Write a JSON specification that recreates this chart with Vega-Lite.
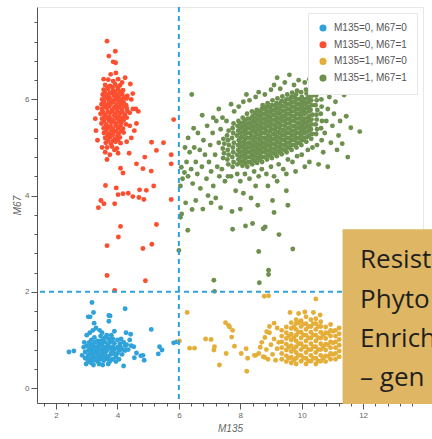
{
"$schema":"https://vega.github.io/schema/vega-lite/v6.json",
"width":386,"height":396,"autosize":"none",
"padding":{"left":37,"top":7,"right":9,"bottom":36},
"background":"white",
"config":{"view":{"stroke":"#e8e8e8"}},
"datasets":{
"pts":[
{"x":2.85,"y":0.68,"g":"A"},{"x":2.92,"y":0.95,"g":"A"},{"x":2.95,"y":0.75,"g":"A"},{"x":3.0,"y":0.62,"g":"A"},{"x":3.0,"y":0.88,"g":"A"},{"x":3.0,"y":1.1,"g":"A"},{"x":3.05,"y":0.55,"g":"A"},{"x":3.05,"y":0.78,"g":"A"},{"x":3.1,"y":0.7,"g":"A"},{"x":3.1,"y":0.82,"g":"A"},{"x":3.1,"y":1.15,"g":"A"},{"x":3.15,"y":0.52,"g":"A"},{"x":3.15,"y":0.76,"g":"A"},{"x":3.15,"y":1.0,"g":"A"},{"x":3.2,"y":0.65,"g":"A"},{"x":3.2,"y":0.9,"g":"A"},{"x":3.2,"y":1.2,"g":"A"},{"x":3.25,"y":0.58,"g":"A"},{"x":3.25,"y":0.8,"g":"A"},{"x":3.25,"y":1.05,"g":"A"},{"x":3.3,"y":0.72,"g":"A"},{"x":3.3,"y":0.85,"g":"A"},{"x":3.3,"y":1.25,"g":"A"},{"x":3.35,"y":0.55,"g":"A"},{"x":3.35,"y":0.75,"g":"A"},{"x":3.35,"y":0.98,"g":"A"},{"x":3.4,"y":0.5,"g":"A"},{"x":3.4,"y":0.68,"g":"A"},{"x":3.4,"y":0.92,"g":"A"},{"x":3.45,"y":0.6,"g":"A"},{"x":3.45,"y":0.8,"g":"A"},{"x":3.45,"y":1.08,"g":"A"},{"x":3.5,"y":0.75,"g":"A"},{"x":3.5,"y":0.88,"g":"A"},{"x":3.5,"y":1.15,"g":"A"},{"x":3.55,"y":0.57,"g":"A"},{"x":3.55,"y":0.82,"g":"A"},{"x":3.55,"y":1.02,"g":"A"},{"x":3.6,"y":0.6,"g":"A"},{"x":3.6,"y":0.7,"g":"A"},{"x":3.6,"y":0.95,"g":"A"},{"x":3.65,"y":0.62,"g":"A"},{"x":3.65,"y":0.78,"g":"A"},{"x":3.65,"y":1.1,"g":"A"},{"x":3.7,"y":0.5,"g":"A"},{"x":3.7,"y":0.66,"g":"A"},{"x":3.7,"y":0.9,"g":"A"},{"x":3.75,"y":0.55,"g":"A"},{"x":3.75,"y":0.84,"g":"A"},{"x":3.8,"y":0.74,"g":"A"},{"x":3.8,"y":0.98,"g":"A"},{"x":3.8,"y":1.1,"g":"A"},{"x":3.85,"y":0.6,"g":"A"},{"x":3.85,"y":0.86,"g":"A"},{"x":3.9,"y":0.8,"g":"A"},{"x":3.9,"y":0.93,"g":"A"},{"x":3.9,"y":1.18,"g":"A"},{"x":3.95,"y":0.65,"g":"A"},{"x":4.0,"y":0.72,"g":"A"},{"x":4.0,"y":1.0,"g":"A"},{"x":4.05,"y":0.6,"g":"A"},{"x":4.1,"y":0.85,"g":"A"},{"x":4.15,"y":0.7,"g":"A"},{"x":4.2,"y":0.95,"g":"A"},{"x":4.25,"y":0.78,"g":"A"},{"x":4.3,"y":0.9,"g":"A"},{"x":4.35,"y":0.8,"g":"A"},{"x":4.4,"y":1.0,"g":"A"},{"x":4.45,"y":0.88,"g":"A"},{"x":2.98,"y":0.5,"g":"A"},{"x":3.22,"y":0.48,"g":"A"},{"x":3.52,"y":0.48,"g":"A"},{"x":2.9,"y":0.85,"g":"A"},{"x":3.08,"y":0.95,"g":"A"},{"x":3.42,"y":1.2,"g":"A"},{"x":3.62,"y":0.85,"g":"A"},{"x":3.72,"y":1.02,"g":"A"},{"x":3.95,"y":0.55,"g":"A"},{"x":4.12,"y":1.02,"g":"A"},{"x":4.05,"y":0.78,"g":"A"},
{"x":3.12,"y":0.6,"g":"A"},{"x":3.28,"y":0.62,"g":"A"},{"x":3.42,"y":0.64,"g":"A"},{"x":3.58,"y":0.66,"g":"A"},{"x":3.72,"y":0.6,"g":"A"},{"x":3.18,"y":0.72,"g":"A"},{"x":3.35,"y":0.82,"g":"A"},{"x":3.48,"y":0.7,"g":"A"},{"x":3.62,"y":0.76,"g":"A"},{"x":3.78,"y":0.7,"g":"A"},{"x":3.22,"y":0.85,"g":"A"},{"x":3.38,"y":0.88,"g":"A"},{"x":3.52,"y":0.95,"g":"A"},{"x":3.68,"y":0.82,"g":"A"},{"x":3.82,"y":0.8,"g":"A"},{"x":3.05,"y":0.68,"g":"A"},{"x":2.95,"y":0.62,"g":"A"},{"x":3.27,"y":0.95,"g":"A"},{"x":3.46,"y":0.98,"g":"A"},{"x":3.6,"y":1.05,"g":"A"},{"x":3.75,"y":0.95,"g":"A"},{"x":3.88,"y":0.72,"g":"A"},{"x":4.0,"y":0.85,"g":"A"},{"x":4.15,"y":0.8,"g":"A"},{"x":4.25,"y":0.88,"g":"A"},{"x":3.12,"y":0.88,"g":"A"},{"x":3.3,"y":0.62,"g":"A"},{"x":3.55,"y":0.65,"g":"A"},{"x":3.85,"y":1.02,"g":"A"},{"x":4.08,"y":0.92,"g":"A"},
{"x":3.17,"y":1.78,"g":"A"},{"x":4.25,"y":1.65,"g":"A"},{"x":5.1,"y":1.22,"g":"A"},{"x":2.42,"y":0.75,"g":"A"},{"x":2.58,"y":0.77,"g":"A"},{"x":5.37,"y":0.86,"g":"A"},{"x":5.45,"y":0.79,"g":"A"},{"x":5.33,"y":0.71,"g":"A"},{"x":5.83,"y":0.94,"g":"A"},{"x":5.93,"y":0.96,"g":"A"},{"x":4.83,"y":0.68,"g":"A"},{"x":4.62,"y":0.73,"g":"A"},{"x":4.53,"y":0.86,"g":"A"},{"x":4.2,"y":0.46,"g":"A"},{"x":3.72,"y":1.51,"g":"A"},{"x":3.72,"y":1.39,"g":"A"},{"x":3.05,"y":1.48,"g":"A"},{"x":3.11,"y":1.48,"g":"A"},{"x":3.22,"y":1.57,"g":"A"},{"x":3.24,"y":1.35,"g":"A"},{"x":3.76,"y":1.5,"g":"A"},{"x":4.28,"y":1.15,"g":"A"},{"x":4.43,"y":1.12,"g":"A"},{"x":4.76,"y":0.67,"g":"A"},{"x":4.87,"y":0.58,"g":"A"},{"x":4.55,"y":0.63,"g":"A"},
{"x":3.7,"y":6.41,"g":"B"},{"x":3.86,"y":6.38,"g":"B"},{"x":4.02,"y":6.42,"g":"B"},
{"x":3.6,"y":6.3,"g":"B"},{"x":3.76,"y":6.28,"g":"B"},{"x":3.92,"y":6.32,"g":"B"},{"x":4.08,"y":6.29,"g":"B"},
{"x":3.55,"y":6.2,"g":"B"},{"x":3.7,"y":6.22,"g":"B"},{"x":3.86,"y":6.18,"g":"B"},{"x":4.02,"y":6.21,"g":"B"},{"x":4.18,"y":6.19,"g":"B"},
{"x":3.52,"y":6.1,"g":"B"},{"x":3.68,"y":6.08,"g":"B"},{"x":3.84,"y":6.12,"g":"B"},{"x":4.0,"y":6.09,"g":"B"},{"x":4.16,"y":6.11,"g":"B"},{"x":4.32,"y":6.07,"g":"B"},
{"x":3.5,"y":6.0,"g":"B"},{"x":3.66,"y":6.02,"g":"B"},{"x":3.82,"y":5.98,"g":"B"},{"x":3.98,"y":6.01,"g":"B"},{"x":4.14,"y":5.99,"g":"B"},{"x":4.3,"y":6.02,"g":"B"},
{"x":3.48,"y":5.9,"g":"B"},{"x":3.64,"y":5.88,"g":"B"},{"x":3.8,"y":5.92,"g":"B"},{"x":3.96,"y":5.89,"g":"B"},{"x":4.12,"y":5.91,"g":"B"},{"x":4.28,"y":5.88,"g":"B"},
{"x":3.5,"y":5.8,"g":"B"},{"x":3.66,"y":5.82,"g":"B"},{"x":3.82,"y":5.78,"g":"B"},{"x":3.98,"y":5.81,"g":"B"},{"x":4.14,"y":5.79,"g":"B"},{"x":4.3,"y":5.82,"g":"B"},{"x":4.5,"y":5.8,"g":"B"},
{"x":3.45,"y":5.7,"g":"B"},{"x":3.6,"y":5.68,"g":"B"},{"x":3.76,"y":5.72,"g":"B"},{"x":3.92,"y":5.69,"g":"B"},{"x":4.08,"y":5.71,"g":"B"},{"x":4.24,"y":5.68,"g":"B"},{"x":4.4,"y":5.72,"g":"B"},
{"x":3.5,"y":5.6,"g":"B"},{"x":3.66,"y":5.62,"g":"B"},{"x":3.82,"y":5.58,"g":"B"},{"x":3.98,"y":5.61,"g":"B"},{"x":4.14,"y":5.59,"g":"B"},{"x":4.3,"y":5.62,"g":"B"},
{"x":3.48,"y":5.5,"g":"B"},{"x":3.64,"y":5.48,"g":"B"},{"x":3.8,"y":5.52,"g":"B"},{"x":3.96,"y":5.49,"g":"B"},{"x":4.12,"y":5.51,"g":"B"},{"x":4.28,"y":5.48,"g":"B"},
{"x":3.55,"y":5.4,"g":"B"},{"x":3.7,"y":5.42,"g":"B"},{"x":3.86,"y":5.38,"g":"B"},{"x":4.02,"y":5.41,"g":"B"},{"x":4.18,"y":5.39,"g":"B"},
{"x":3.56,"y":5.3,"g":"B"},{"x":3.72,"y":5.28,"g":"B"},{"x":3.88,"y":5.32,"g":"B"},{"x":4.04,"y":5.29,"g":"B"},{"x":4.2,"y":5.31,"g":"B"},
{"x":3.6,"y":5.2,"g":"B"},{"x":3.76,"y":5.22,"g":"B"},{"x":3.92,"y":5.18,"g":"B"},{"x":4.08,"y":5.21,"g":"B"},
{"x":3.62,"y":5.1,"g":"B"},{"x":3.78,"y":5.08,"g":"B"},{"x":3.94,"y":5.12,"g":"B"},{"x":4.1,"y":5.09,"g":"B"},
{"x":3.66,"y":5.0,"g":"B"},{"x":3.82,"y":5.02,"g":"B"},{"x":3.98,"y":4.98,"g":"B"},
{"x":3.68,"y":6.25,"g":"B"},{"x":3.84,"y":6.25,"g":"B"},{"x":4.0,"y":6.26,"g":"B"},{"x":3.6,"y":6.15,"g":"B"},{"x":3.76,"y":6.14,"g":"B"},{"x":3.92,"y":6.16,"g":"B"},{"x":4.08,"y":6.15,"g":"B"},{"x":3.58,"y":6.05,"g":"B"},{"x":3.74,"y":6.04,"g":"B"},{"x":3.9,"y":6.06,"g":"B"},{"x":4.06,"y":6.05,"g":"B"},{"x":4.22,"y":6.04,"g":"B"},{"x":3.56,"y":5.95,"g":"B"},{"x":3.72,"y":5.94,"g":"B"},{"x":3.88,"y":5.96,"g":"B"},{"x":4.04,"y":5.95,"g":"B"},{"x":4.2,"y":5.94,"g":"B"},{"x":3.58,"y":5.85,"g":"B"},{"x":3.74,"y":5.86,"g":"B"},{"x":3.9,"y":5.84,"g":"B"},{"x":4.06,"y":5.85,"g":"B"},{"x":4.22,"y":5.86,"g":"B"},{"x":3.52,"y":5.75,"g":"B"},{"x":3.68,"y":5.74,"g":"B"},{"x":3.84,"y":5.76,"g":"B"},{"x":4.0,"y":5.75,"g":"B"},{"x":4.16,"y":5.74,"g":"B"},{"x":4.32,"y":5.76,"g":"B"},{"x":3.58,"y":5.65,"g":"B"},{"x":3.74,"y":5.64,"g":"B"},{"x":3.9,"y":5.66,"g":"B"},{"x":4.06,"y":5.65,"g":"B"},{"x":4.22,"y":5.64,"g":"B"},{"x":3.56,"y":5.55,"g":"B"},{"x":3.72,"y":5.56,"g":"B"},{"x":3.88,"y":5.54,"g":"B"},{"x":4.04,"y":5.55,"g":"B"},{"x":4.2,"y":5.56,"g":"B"},{"x":3.62,"y":5.45,"g":"B"},{"x":3.78,"y":5.44,"g":"B"},{"x":3.94,"y":5.46,"g":"B"},{"x":4.1,"y":5.45,"g":"B"},{"x":3.64,"y":5.35,"g":"B"},{"x":3.8,"y":5.36,"g":"B"},{"x":3.96,"y":5.34,"g":"B"},{"x":4.12,"y":5.35,"g":"B"},{"x":3.68,"y":5.25,"g":"B"},{"x":3.84,"y":5.26,"g":"B"},{"x":4.0,"y":5.24,"g":"B"},{"x":3.7,"y":5.15,"g":"B"},{"x":3.86,"y":5.14,"g":"B"},{"x":4.02,"y":5.16,"g":"B"},
{"x":4.45,"y":6.0,"g":"B"},{"x":4.6,"y":5.8,"g":"B"},{"x":4.68,"y":5.75,"g":"B"},{"x":4.62,"y":5.5,"g":"B"},{"x":4.55,"y":5.35,"g":"B"},{"x":4.4,"y":5.45,"g":"B"},{"x":4.45,"y":5.2,"g":"B"},{"x":4.3,"y":5.12,"g":"B"},{"x":4.5,"y":6.12,"g":"B"},{"x":4.42,"y":6.32,"g":"B"},{"x":3.3,"y":5.35,"g":"B"},{"x":3.35,"y":5.15,"g":"B"},{"x":3.28,"y":5.6,"g":"B"},{"x":3.35,"y":5.82,"g":"B"},{"x":3.5,"y":5.0,"g":"B"},{"x":3.6,"y":4.9,"g":"B"},{"x":3.75,"y":4.85,"g":"B"},{"x":3.9,"y":4.95,"g":"B"},{"x":4.02,"y":4.88,"g":"B"},{"x":3.66,"y":4.75,"g":"B"},{"x":4.25,"y":6.45,"g":"B"},{"x":3.55,"y":6.42,"g":"B"},{"x":3.95,"y":6.55,"g":"B"},{"x":4.15,"y":6.35,"g":"B"},{"x":3.78,"y":6.52,"g":"B"},
{"x":3.66,"y":7.21,"g":"B"},{"x":3.93,"y":7.0,"g":"B"},{"x":3.72,"y":6.9,"g":"B"},{"x":3.86,"y":6.78,"g":"B"},{"x":3.94,"y":6.76,"g":"B"},{"x":5.11,"y":5.11,"g":"B"},{"x":5.5,"y":5.1,"g":"B"},{"x":5.27,"y":4.94,"g":"B"},{"x":4.89,"y":4.8,"g":"B"},{"x":5.75,"y":4.85,"g":"B"},{"x":5.75,"y":4.66,"g":"B"},{"x":5.83,"y":5.58,"g":"B"},{"x":4.83,"y":4.56,"g":"B"},{"x":5.1,"y":4.51,"g":"B"},{"x":4.62,"y":4.66,"g":"B"},{"x":4.1,"y":4.57,"g":"B"},{"x":4.18,"y":4.47,"g":"B"},{"x":4.38,"y":4.88,"g":"B"},{"x":3.61,"y":4.21,"g":"B"},{"x":3.96,"y":4.16,"g":"B"},{"x":4.02,"y":4.02,"g":"B"},{"x":4.18,"y":4.04,"g":"B"},{"x":4.35,"y":4.05,"g":"B"},{"x":4.5,"y":3.98,"g":"B"},{"x":4.7,"y":3.96,"g":"B"},{"x":4.86,"y":3.92,"g":"B"},{"x":4.94,"y":4.11,"g":"B"},{"x":5.18,"y":4.2,"g":"B"},{"x":4.72,"y":4.12,"g":"B"},{"x":3.46,"y":3.9,"g":"B"},{"x":3.56,"y":3.83,"g":"B"},{"x":3.38,"y":3.75,"g":"B"},{"x":3.91,"y":3.83,"g":"B"},{"x":5.75,"y":3.92,"g":"B"},{"x":4.1,"y":3.36,"g":"B"},{"x":5.27,"y":3.4,"g":"B"},{"x":4.03,"y":3.14,"g":"B"},{"x":3.66,"y":2.96,"g":"B"},{"x":5.12,"y":2.99,"g":"B"},{"x":4.83,"y":2.9,"g":"B"},{"x":3.66,"y":2.34,"g":"B"},{"x":4.91,"y":2.23,"g":"B"},{"x":3.91,"y":2.03,"g":"B"},
{"x":9.35,"y":0.6,"g":"C"},{"x":9.35,"y":0.72,"g":"C"},{"x":9.35,"y":0.84,"g":"C"},{"x":9.35,"y":0.96,"g":"C"},{"x":9.35,"y":1.08,"g":"C"},{"x":9.35,"y":1.2,"g":"C"},
{"x":9.5,"y":0.55,"g":"C"},{"x":9.5,"y":0.67,"g":"C"},{"x":9.5,"y":0.79,"g":"C"},{"x":9.5,"y":0.91,"g":"C"},{"x":9.5,"y":1.03,"g":"C"},{"x":9.5,"y":1.15,"g":"C"},{"x":9.5,"y":1.27,"g":"C"},
{"x":9.66,"y":0.52,"g":"C"},{"x":9.66,"y":0.64,"g":"C"},{"x":9.66,"y":0.76,"g":"C"},{"x":9.66,"y":0.88,"g":"C"},{"x":9.66,"y":1.0,"g":"C"},{"x":9.66,"y":1.12,"g":"C"},{"x":9.66,"y":1.24,"g":"C"},{"x":9.66,"y":1.36,"g":"C"},
{"x":9.82,"y":0.5,"g":"C"},{"x":9.82,"y":0.62,"g":"C"},{"x":9.82,"y":0.74,"g":"C"},{"x":9.82,"y":0.86,"g":"C"},{"x":9.82,"y":0.98,"g":"C"},{"x":9.82,"y":1.1,"g":"C"},{"x":9.82,"y":1.22,"g":"C"},{"x":9.82,"y":1.34,"g":"C"},{"x":9.82,"y":1.42,"g":"C"},
{"x":9.98,"y":0.56,"g":"C"},{"x":9.98,"y":0.68,"g":"C"},{"x":9.98,"y":0.8,"g":"C"},{"x":9.98,"y":0.92,"g":"C"},{"x":9.98,"y":1.04,"g":"C"},{"x":9.98,"y":1.16,"g":"C"},{"x":9.98,"y":1.28,"g":"C"},{"x":9.98,"y":1.4,"g":"C"},
{"x":10.14,"y":0.5,"g":"C"},{"x":10.14,"y":0.62,"g":"C"},{"x":10.14,"y":0.74,"g":"C"},{"x":10.14,"y":0.86,"g":"C"},{"x":10.14,"y":0.98,"g":"C"},{"x":10.14,"y":1.1,"g":"C"},{"x":10.14,"y":1.22,"g":"C"},{"x":10.14,"y":1.34,"g":"C"},{"x":10.14,"y":1.48,"g":"C"},
{"x":10.3,"y":0.56,"g":"C"},{"x":10.3,"y":0.68,"g":"C"},{"x":10.3,"y":0.8,"g":"C"},{"x":10.3,"y":0.92,"g":"C"},{"x":10.3,"y":1.04,"g":"C"},{"x":10.3,"y":1.16,"g":"C"},{"x":10.3,"y":1.28,"g":"C"},{"x":10.3,"y":1.42,"g":"C"},
{"x":10.46,"y":0.5,"g":"C"},{"x":10.46,"y":0.62,"g":"C"},{"x":10.46,"y":0.74,"g":"C"},{"x":10.46,"y":0.86,"g":"C"},{"x":10.46,"y":0.98,"g":"C"},{"x":10.46,"y":1.1,"g":"C"},{"x":10.46,"y":1.22,"g":"C"},{"x":10.46,"y":1.34,"g":"C"},{"x":10.46,"y":1.44,"g":"C"},
{"x":10.62,"y":0.56,"g":"C"},{"x":10.62,"y":0.68,"g":"C"},{"x":10.62,"y":0.8,"g":"C"},{"x":10.62,"y":0.92,"g":"C"},{"x":10.62,"y":1.04,"g":"C"},{"x":10.62,"y":1.16,"g":"C"},{"x":10.62,"y":1.28,"g":"C"},{"x":10.62,"y":1.38,"g":"C"},
{"x":10.78,"y":0.55,"g":"C"},{"x":10.78,"y":0.67,"g":"C"},{"x":10.78,"y":0.79,"g":"C"},{"x":10.78,"y":0.91,"g":"C"},{"x":10.78,"y":1.03,"g":"C"},{"x":10.78,"y":1.15,"g":"C"},{"x":10.78,"y":1.27,"g":"C"},
{"x":10.94,"y":0.6,"g":"C"},{"x":10.94,"y":0.72,"g":"C"},{"x":10.94,"y":0.84,"g":"C"},{"x":10.94,"y":0.96,"g":"C"},{"x":10.94,"y":1.08,"g":"C"},{"x":10.94,"y":1.2,"g":"C"},{"x":10.94,"y":1.32,"g":"C"},
{"x":11.1,"y":0.6,"g":"C"},{"x":11.1,"y":0.72,"g":"C"},{"x":11.1,"y":0.84,"g":"C"},{"x":11.1,"y":0.96,"g":"C"},{"x":11.1,"y":1.08,"g":"C"},{"x":11.1,"y":1.2,"g":"C"},
{"x":11.22,"y":0.65,"g":"C"},{"x":11.22,"y":0.77,"g":"C"},{"x":11.22,"y":0.89,"g":"C"},{"x":11.22,"y":1.01,"g":"C"},{"x":11.22,"y":1.13,"g":"C"},{"x":11.22,"y":1.25,"g":"C"},
{"x":9.58,"y":0.62,"g":"C"},{"x":9.58,"y":0.85,"g":"C"},{"x":9.58,"y":1.08,"g":"C"},{"x":9.74,"y":0.58,"g":"C"},{"x":9.74,"y":0.81,"g":"C"},{"x":9.74,"y":1.04,"g":"C"},{"x":9.74,"y":1.27,"g":"C"},{"x":9.9,"y":0.68,"g":"C"},{"x":9.9,"y":0.92,"g":"C"},{"x":9.9,"y":1.16,"g":"C"},{"x":9.9,"y":1.36,"g":"C"},{"x":10.06,"y":0.62,"g":"C"},{"x":10.06,"y":0.86,"g":"C"},{"x":10.06,"y":1.1,"g":"C"},{"x":10.06,"y":1.33,"g":"C"},{"x":10.22,"y":0.56,"g":"C"},{"x":10.22,"y":0.8,"g":"C"},{"x":10.22,"y":1.04,"g":"C"},{"x":10.22,"y":1.28,"g":"C"},{"x":10.38,"y":0.62,"g":"C"},{"x":10.38,"y":0.86,"g":"C"},{"x":10.38,"y":1.1,"g":"C"},{"x":10.38,"y":1.34,"g":"C"},{"x":10.54,"y":0.56,"g":"C"},{"x":10.54,"y":0.8,"g":"C"},{"x":10.54,"y":1.04,"g":"C"},{"x":10.54,"y":1.28,"g":"C"},{"x":10.7,"y":0.62,"g":"C"},{"x":10.7,"y":0.86,"g":"C"},{"x":10.7,"y":1.1,"g":"C"},{"x":10.86,"y":0.66,"g":"C"},{"x":10.86,"y":0.9,"g":"C"},{"x":10.86,"y":1.14,"g":"C"},{"x":11.02,"y":0.7,"g":"C"},{"x":11.02,"y":0.94,"g":"C"},{"x":11.02,"y":1.18,"g":"C"},
{"x":8.6,"y":0.72,"g":"C"},{"x":8.7,"y":0.95,"g":"C"},{"x":8.75,"y":0.65,"g":"C"},{"x":8.8,"y":1.05,"g":"C"},{"x":8.85,"y":0.8,"g":"C"},{"x":8.9,"y":0.6,"g":"C"},{"x":8.95,"y":1.15,"g":"C"},{"x":9.0,"y":0.9,"g":"C"},{"x":9.05,"y":0.7,"g":"C"},{"x":9.1,"y":1.02,"g":"C"},{"x":9.15,"y":0.58,"g":"C"},{"x":9.2,"y":0.82,"g":"C"},{"x":9.2,"y":1.25,"g":"C"},{"x":9.25,"y":0.95,"g":"C"},{"x":8.65,"y":0.85,"g":"C"},{"x":8.95,"y":1.28,"g":"C"},{"x":9.1,"y":1.35,"g":"C"},{"x":8.5,"y":0.68,"g":"C"},{"x":8.86,"y":1.17,"g":"C"},{"x":8.79,"y":0.64,"g":"C"},
{"x":9.62,"y":1.57,"g":"C"},{"x":10.38,"y":1.57,"g":"C"},{"x":10.46,"y":1.85,"g":"C"},{"x":10.1,"y":1.58,"g":"C"},{"x":10.6,"y":1.52,"g":"C"},{"x":9.9,"y":1.55,"g":"C"},
{"x":8.78,"y":1.91,"g":"C"},{"x":8.92,"y":1.92,"g":"C"},{"x":6.27,"y":1.57,"g":"C"},{"x":6.02,"y":0.98,"g":"C"},{"x":6.35,"y":0.83,"g":"C"},{"x":6.51,"y":0.83,"g":"C"},{"x":6.87,"y":1.02,"g":"C"},{"x":7.05,"y":1.01,"g":"C"},{"x":7.16,"y":0.86,"g":"C"},{"x":7.14,"y":0.79,"g":"C"},{"x":7.32,"y":0.48,"g":"C"},{"x":7.52,"y":1.36,"g":"C"},{"x":7.65,"y":1.27,"g":"C"},{"x":7.75,"y":1.2,"g":"C"},{"x":7.72,"y":1.06,"g":"C"},{"x":7.81,"y":0.87,"g":"C"},{"x":7.54,"y":0.72,"g":"C"},{"x":8.03,"y":0.72,"g":"C"},{"x":8.19,"y":0.82,"g":"C"},{"x":8.24,"y":0.62,"g":"C"},{"x":8.21,"y":0.35,"g":"C"},{"x":8.46,"y":0.68,"g":"C"},{"x":7.62,"y":1.3,"g":"C"},
{"x":7.44,"y":4.78,"g":"D"},{"x":7.47,"y":4.88,"g":"D"},{"x":7.43,"y":4.98,"g":"D"},{"x":7.48,"y":5.08,"g":"D"},{"x":7.45,"y":5.18,"g":"D"},
{"x":7.61,"y":4.65,"g":"D"},{"x":7.58,"y":4.75,"g":"D"},{"x":7.62,"y":4.85,"g":"D"},{"x":7.59,"y":4.95,"g":"D"},{"x":7.63,"y":5.05,"g":"D"},{"x":7.6,"y":5.15,"g":"D"},{"x":7.57,"y":5.25,"g":"D"},{"x":7.62,"y":5.35,"g":"D"},
{"x":7.75,"y":4.6,"g":"D"},{"x":7.78,"y":4.7,"g":"D"},{"x":7.74,"y":4.8,"g":"D"},{"x":7.77,"y":4.9,"g":"D"},{"x":7.76,"y":5.0,"g":"D"},{"x":7.79,"y":5.1,"g":"D"},{"x":7.73,"y":5.2,"g":"D"},{"x":7.77,"y":5.3,"g":"D"},{"x":7.75,"y":5.4,"g":"D"},{"x":7.78,"y":5.5,"g":"D"},
{"x":7.91,"y":4.65,"g":"D"},{"x":7.94,"y":4.75,"g":"D"},{"x":7.9,"y":4.85,"g":"D"},{"x":7.93,"y":4.95,"g":"D"},{"x":7.92,"y":5.05,"g":"D"},{"x":7.95,"y":5.15,"g":"D"},{"x":7.89,"y":5.25,"g":"D"},{"x":7.93,"y":5.35,"g":"D"},{"x":7.91,"y":5.45,"g":"D"},{"x":7.94,"y":5.55,"g":"D"},
{"x":8.07,"y":4.62,"g":"D"},{"x":8.1,"y":4.72,"g":"D"},{"x":8.06,"y":4.82,"g":"D"},{"x":8.09,"y":4.92,"g":"D"},{"x":8.08,"y":5.02,"g":"D"},{"x":8.11,"y":5.12,"g":"D"},{"x":8.05,"y":5.22,"g":"D"},{"x":8.09,"y":5.32,"g":"D"},{"x":8.07,"y":5.42,"g":"D"},{"x":8.1,"y":5.52,"g":"D"},{"x":8.08,"y":5.62,"g":"D"},
{"x":8.23,"y":4.6,"g":"D"},{"x":8.26,"y":4.7,"g":"D"},{"x":8.22,"y":4.8,"g":"D"},{"x":8.25,"y":4.9,"g":"D"},{"x":8.24,"y":5.0,"g":"D"},{"x":8.27,"y":5.1,"g":"D"},{"x":8.21,"y":5.2,"g":"D"},{"x":8.25,"y":5.3,"g":"D"},{"x":8.23,"y":5.4,"g":"D"},{"x":8.26,"y":5.5,"g":"D"},{"x":8.24,"y":5.6,"g":"D"},{"x":8.22,"y":5.7,"g":"D"},
{"x":8.39,"y":4.65,"g":"D"},{"x":8.42,"y":4.75,"g":"D"},{"x":8.38,"y":4.85,"g":"D"},{"x":8.41,"y":4.95,"g":"D"},{"x":8.4,"y":5.05,"g":"D"},{"x":8.43,"y":5.15,"g":"D"},{"x":8.37,"y":5.25,"g":"D"},{"x":8.41,"y":5.35,"g":"D"},{"x":8.39,"y":5.45,"g":"D"},{"x":8.42,"y":5.55,"g":"D"},{"x":8.4,"y":5.65,"g":"D"},{"x":8.38,"y":5.75,"g":"D"},
{"x":8.55,"y":4.68,"g":"D"},{"x":8.58,"y":4.78,"g":"D"},{"x":8.54,"y":4.88,"g":"D"},{"x":8.57,"y":4.98,"g":"D"},{"x":8.56,"y":5.08,"g":"D"},{"x":8.59,"y":5.18,"g":"D"},{"x":8.53,"y":5.28,"g":"D"},{"x":8.57,"y":5.38,"g":"D"},{"x":8.55,"y":5.48,"g":"D"},{"x":8.58,"y":5.58,"g":"D"},{"x":8.56,"y":5.68,"g":"D"},{"x":8.54,"y":5.78,"g":"D"},
{"x":8.71,"y":4.7,"g":"D"},{"x":8.74,"y":4.8,"g":"D"},{"x":8.7,"y":4.9,"g":"D"},{"x":8.73,"y":5.0,"g":"D"},{"x":8.72,"y":5.1,"g":"D"},{"x":8.75,"y":5.2,"g":"D"},{"x":8.69,"y":5.3,"g":"D"},{"x":8.73,"y":5.4,"g":"D"},{"x":8.71,"y":5.5,"g":"D"},{"x":8.74,"y":5.6,"g":"D"},{"x":8.72,"y":5.7,"g":"D"},{"x":8.7,"y":5.8,"g":"D"},{"x":8.73,"y":5.88,"g":"D"},
{"x":8.87,"y":4.75,"g":"D"},{"x":8.9,"y":4.85,"g":"D"},{"x":8.86,"y":4.95,"g":"D"},{"x":8.89,"y":5.05,"g":"D"},{"x":8.88,"y":5.15,"g":"D"},{"x":8.91,"y":5.25,"g":"D"},{"x":8.85,"y":5.35,"g":"D"},{"x":8.89,"y":5.45,"g":"D"},{"x":8.87,"y":5.55,"g":"D"},{"x":8.9,"y":5.65,"g":"D"},{"x":8.88,"y":5.75,"g":"D"},{"x":8.86,"y":5.85,"g":"D"},{"x":8.89,"y":5.92,"g":"D"},
{"x":9.03,"y":4.78,"g":"D"},{"x":9.06,"y":4.88,"g":"D"},{"x":9.02,"y":4.98,"g":"D"},{"x":9.05,"y":5.08,"g":"D"},{"x":9.04,"y":5.18,"g":"D"},{"x":9.07,"y":5.28,"g":"D"},{"x":9.01,"y":5.38,"g":"D"},{"x":9.05,"y":5.48,"g":"D"},{"x":9.03,"y":5.58,"g":"D"},{"x":9.06,"y":5.68,"g":"D"},{"x":9.04,"y":5.78,"g":"D"},{"x":9.02,"y":5.88,"g":"D"},{"x":9.05,"y":5.98,"g":"D"},
{"x":9.19,"y":4.82,"g":"D"},{"x":9.22,"y":4.92,"g":"D"},{"x":9.18,"y":5.02,"g":"D"},{"x":9.21,"y":5.12,"g":"D"},{"x":9.2,"y":5.22,"g":"D"},{"x":9.23,"y":5.32,"g":"D"},{"x":9.17,"y":5.42,"g":"D"},{"x":9.21,"y":5.52,"g":"D"},{"x":9.19,"y":5.62,"g":"D"},{"x":9.22,"y":5.72,"g":"D"},{"x":9.2,"y":5.82,"g":"D"},{"x":9.18,"y":5.92,"g":"D"},{"x":9.21,"y":6.02,"g":"D"},
{"x":9.35,"y":4.86,"g":"D"},{"x":9.38,"y":4.96,"g":"D"},{"x":9.34,"y":5.06,"g":"D"},{"x":9.37,"y":5.16,"g":"D"},{"x":9.36,"y":5.26,"g":"D"},{"x":9.39,"y":5.36,"g":"D"},{"x":9.33,"y":5.46,"g":"D"},{"x":9.37,"y":5.56,"g":"D"},{"x":9.35,"y":5.66,"g":"D"},{"x":9.38,"y":5.76,"g":"D"},{"x":9.36,"y":5.86,"g":"D"},{"x":9.34,"y":5.96,"g":"D"},{"x":9.37,"y":6.06,"g":"D"},
{"x":9.51,"y":4.9,"g":"D"},{"x":9.54,"y":5.0,"g":"D"},{"x":9.5,"y":5.1,"g":"D"},{"x":9.53,"y":5.2,"g":"D"},{"x":9.52,"y":5.3,"g":"D"},{"x":9.55,"y":5.4,"g":"D"},{"x":9.49,"y":5.5,"g":"D"},{"x":9.53,"y":5.6,"g":"D"},{"x":9.51,"y":5.7,"g":"D"},{"x":9.54,"y":5.8,"g":"D"},{"x":9.52,"y":5.9,"g":"D"},{"x":9.5,"y":6.0,"g":"D"},{"x":9.53,"y":6.1,"g":"D"},
{"x":9.67,"y":4.95,"g":"D"},{"x":9.7,"y":5.05,"g":"D"},{"x":9.66,"y":5.15,"g":"D"},{"x":9.69,"y":5.25,"g":"D"},{"x":9.68,"y":5.35,"g":"D"},{"x":9.71,"y":5.45,"g":"D"},{"x":9.65,"y":5.55,"g":"D"},{"x":9.69,"y":5.65,"g":"D"},{"x":9.67,"y":5.75,"g":"D"},{"x":9.7,"y":5.85,"g":"D"},{"x":9.68,"y":5.95,"g":"D"},{"x":9.66,"y":6.05,"g":"D"},{"x":9.69,"y":6.14,"g":"D"},
{"x":9.83,"y":5.0,"g":"D"},{"x":9.86,"y":5.1,"g":"D"},{"x":9.82,"y":5.2,"g":"D"},{"x":9.85,"y":5.3,"g":"D"},{"x":9.84,"y":5.4,"g":"D"},{"x":9.87,"y":5.5,"g":"D"},{"x":9.81,"y":5.6,"g":"D"},{"x":9.85,"y":5.7,"g":"D"},{"x":9.83,"y":5.8,"g":"D"},{"x":9.86,"y":5.9,"g":"D"},{"x":9.84,"y":6.0,"g":"D"},{"x":9.82,"y":6.1,"g":"D"},{"x":9.85,"y":6.18,"g":"D"},
{"x":9.99,"y":5.05,"g":"D"},{"x":10.02,"y":5.15,"g":"D"},{"x":9.98,"y":5.25,"g":"D"},{"x":10.01,"y":5.35,"g":"D"},{"x":10.0,"y":5.45,"g":"D"},{"x":10.03,"y":5.55,"g":"D"},{"x":9.97,"y":5.65,"g":"D"},{"x":10.01,"y":5.75,"g":"D"},{"x":9.99,"y":5.85,"g":"D"},{"x":10.02,"y":5.95,"g":"D"},{"x":10.0,"y":6.05,"g":"D"},{"x":9.98,"y":6.15,"g":"D"},
{"x":10.15,"y":5.12,"g":"D"},{"x":10.18,"y":5.22,"g":"D"},{"x":10.14,"y":5.32,"g":"D"},{"x":10.17,"y":5.42,"g":"D"},{"x":10.16,"y":5.52,"g":"D"},{"x":10.19,"y":5.62,"g":"D"},{"x":10.13,"y":5.72,"g":"D"},{"x":10.17,"y":5.82,"g":"D"},{"x":10.15,"y":5.92,"g":"D"},{"x":10.18,"y":6.02,"g":"D"},{"x":10.16,"y":6.12,"g":"D"},{"x":10.14,"y":6.2,"g":"D"},
{"x":10.31,"y":5.18,"g":"D"},{"x":10.34,"y":5.28,"g":"D"},{"x":10.3,"y":5.38,"g":"D"},{"x":10.33,"y":5.48,"g":"D"},{"x":10.32,"y":5.58,"g":"D"},{"x":10.35,"y":5.68,"g":"D"},{"x":10.29,"y":5.78,"g":"D"},{"x":10.33,"y":5.88,"g":"D"},{"x":10.31,"y":5.98,"g":"D"},{"x":10.34,"y":6.08,"g":"D"},{"x":10.32,"y":6.18,"g":"D"},
{"x":10.47,"y":5.28,"g":"D"},{"x":10.5,"y":5.38,"g":"D"},{"x":10.46,"y":5.48,"g":"D"},{"x":10.49,"y":5.58,"g":"D"},{"x":10.48,"y":5.68,"g":"D"},{"x":10.51,"y":5.78,"g":"D"},{"x":10.45,"y":5.88,"g":"D"},{"x":10.49,"y":5.98,"g":"D"},{"x":10.47,"y":6.08,"g":"D"},
{"x":10.63,"y":5.4,"g":"D"},{"x":10.66,"y":5.55,"g":"D"},{"x":10.62,"y":5.7,"g":"D"},{"x":10.65,"y":5.85,"g":"D"},{"x":10.64,"y":6.0,"g":"D"},
{"x":8.0,"y":4.7,"g":"D"},{"x":8.0,"y":4.8,"g":"D"},{"x":8.0,"y":4.9,"g":"D"},{"x":8.0,"y":5.0,"g":"D"},{"x":8.0,"y":5.1,"g":"D"},{"x":8.0,"y":5.2,"g":"D"},{"x":8.0,"y":5.3,"g":"D"},{"x":8.0,"y":5.4,"g":"D"},{"x":8.0,"y":5.5,"g":"D"},
{"x":8.16,"y":4.67,"g":"D"},{"x":8.16,"y":4.77,"g":"D"},{"x":8.16,"y":4.87,"g":"D"},{"x":8.16,"y":4.97,"g":"D"},{"x":8.16,"y":5.07,"g":"D"},{"x":8.16,"y":5.17,"g":"D"},{"x":8.16,"y":5.27,"g":"D"},{"x":8.16,"y":5.37,"g":"D"},{"x":8.16,"y":5.47,"g":"D"},{"x":8.16,"y":5.57,"g":"D"},
{"x":8.32,"y":4.7,"g":"D"},{"x":8.32,"y":4.8,"g":"D"},{"x":8.32,"y":4.9,"g":"D"},{"x":8.32,"y":5.0,"g":"D"},{"x":8.32,"y":5.1,"g":"D"},{"x":8.32,"y":5.2,"g":"D"},{"x":8.32,"y":5.3,"g":"D"},{"x":8.32,"y":5.4,"g":"D"},{"x":8.32,"y":5.5,"g":"D"},{"x":8.32,"y":5.6,"g":"D"},
{"x":8.48,"y":4.72,"g":"D"},{"x":8.48,"y":4.82,"g":"D"},{"x":8.48,"y":4.92,"g":"D"},{"x":8.48,"y":5.02,"g":"D"},{"x":8.48,"y":5.12,"g":"D"},{"x":8.48,"y":5.22,"g":"D"},{"x":8.48,"y":5.32,"g":"D"},{"x":8.48,"y":5.42,"g":"D"},{"x":8.48,"y":5.52,"g":"D"},{"x":8.48,"y":5.62,"g":"D"},{"x":8.48,"y":5.72,"g":"D"},
{"x":8.64,"y":4.75,"g":"D"},{"x":8.64,"y":4.85,"g":"D"},{"x":8.64,"y":4.95,"g":"D"},{"x":8.64,"y":5.05,"g":"D"},{"x":8.64,"y":5.15,"g":"D"},{"x":8.64,"y":5.25,"g":"D"},{"x":8.64,"y":5.35,"g":"D"},{"x":8.64,"y":5.45,"g":"D"},{"x":8.64,"y":5.55,"g":"D"},{"x":8.64,"y":5.65,"g":"D"},{"x":8.64,"y":5.75,"g":"D"},
{"x":8.8,"y":4.8,"g":"D"},{"x":8.8,"y":4.9,"g":"D"},{"x":8.8,"y":5.0,"g":"D"},{"x":8.8,"y":5.1,"g":"D"},{"x":8.8,"y":5.2,"g":"D"},{"x":8.8,"y":5.3,"g":"D"},{"x":8.8,"y":5.4,"g":"D"},{"x":8.8,"y":5.5,"g":"D"},{"x":8.8,"y":5.6,"g":"D"},{"x":8.8,"y":5.7,"g":"D"},{"x":8.8,"y":5.8,"g":"D"},
{"x":8.96,"y":4.83,"g":"D"},{"x":8.96,"y":4.93,"g":"D"},{"x":8.96,"y":5.03,"g":"D"},{"x":8.96,"y":5.13,"g":"D"},{"x":8.96,"y":5.23,"g":"D"},{"x":8.96,"y":5.33,"g":"D"},{"x":8.96,"y":5.43,"g":"D"},{"x":8.96,"y":5.53,"g":"D"},{"x":8.96,"y":5.63,"g":"D"},{"x":8.96,"y":5.73,"g":"D"},{"x":8.96,"y":5.83,"g":"D"},
{"x":9.12,"y":4.87,"g":"D"},{"x":9.12,"y":4.97,"g":"D"},{"x":9.12,"y":5.07,"g":"D"},{"x":9.12,"y":5.17,"g":"D"},{"x":9.12,"y":5.27,"g":"D"},{"x":9.12,"y":5.37,"g":"D"},{"x":9.12,"y":5.47,"g":"D"},{"x":9.12,"y":5.57,"g":"D"},{"x":9.12,"y":5.67,"g":"D"},{"x":9.12,"y":5.77,"g":"D"},{"x":9.12,"y":5.87,"g":"D"},
{"x":9.28,"y":4.9,"g":"D"},{"x":9.28,"y":5.0,"g":"D"},{"x":9.28,"y":5.1,"g":"D"},{"x":9.28,"y":5.2,"g":"D"},{"x":9.28,"y":5.3,"g":"D"},{"x":9.28,"y":5.4,"g":"D"},{"x":9.28,"y":5.5,"g":"D"},{"x":9.28,"y":5.6,"g":"D"},{"x":9.28,"y":5.7,"g":"D"},{"x":9.28,"y":5.8,"g":"D"},{"x":9.28,"y":5.9,"g":"D"},
{"x":9.44,"y":4.95,"g":"D"},{"x":9.44,"y":5.05,"g":"D"},{"x":9.44,"y":5.15,"g":"D"},{"x":9.44,"y":5.25,"g":"D"},{"x":9.44,"y":5.35,"g":"D"},{"x":9.44,"y":5.45,"g":"D"},{"x":9.44,"y":5.55,"g":"D"},{"x":9.44,"y":5.65,"g":"D"},{"x":9.44,"y":5.75,"g":"D"},{"x":9.44,"y":5.85,"g":"D"},{"x":9.44,"y":5.95,"g":"D"},
{"x":9.6,"y":5.0,"g":"D"},{"x":9.6,"y":5.1,"g":"D"},{"x":9.6,"y":5.2,"g":"D"},{"x":9.6,"y":5.3,"g":"D"},{"x":9.6,"y":5.4,"g":"D"},{"x":9.6,"y":5.5,"g":"D"},{"x":9.6,"y":5.6,"g":"D"},{"x":9.6,"y":5.7,"g":"D"},{"x":9.6,"y":5.8,"g":"D"},{"x":9.6,"y":5.9,"g":"D"},{"x":9.6,"y":6.0,"g":"D"},
{"x":9.76,"y":5.05,"g":"D"},{"x":9.76,"y":5.15,"g":"D"},{"x":9.76,"y":5.25,"g":"D"},{"x":9.76,"y":5.35,"g":"D"},{"x":9.76,"y":5.45,"g":"D"},{"x":9.76,"y":5.55,"g":"D"},{"x":9.76,"y":5.65,"g":"D"},{"x":9.76,"y":5.75,"g":"D"},{"x":9.76,"y":5.85,"g":"D"},{"x":9.76,"y":5.95,"g":"D"},{"x":9.76,"y":6.05,"g":"D"},
{"x":9.92,"y":5.1,"g":"D"},{"x":9.92,"y":5.2,"g":"D"},{"x":9.92,"y":5.3,"g":"D"},{"x":9.92,"y":5.4,"g":"D"},{"x":9.92,"y":5.5,"g":"D"},{"x":9.92,"y":5.6,"g":"D"},{"x":9.92,"y":5.7,"g":"D"},{"x":9.92,"y":5.8,"g":"D"},{"x":9.92,"y":5.9,"g":"D"},{"x":9.92,"y":6.0,"g":"D"},
{"x":10.08,"y":5.2,"g":"D"},{"x":10.08,"y":5.3,"g":"D"},{"x":10.08,"y":5.4,"g":"D"},{"x":10.08,"y":5.5,"g":"D"},{"x":10.08,"y":5.6,"g":"D"},{"x":10.08,"y":5.7,"g":"D"},{"x":10.08,"y":5.8,"g":"D"},{"x":10.08,"y":5.9,"g":"D"},{"x":10.08,"y":6.0,"g":"D"},
{"x":10.24,"y":5.25,"g":"D"},{"x":10.24,"y":5.35,"g":"D"},{"x":10.24,"y":5.45,"g":"D"},{"x":10.24,"y":5.55,"g":"D"},{"x":10.24,"y":5.65,"g":"D"},{"x":10.24,"y":5.75,"g":"D"},{"x":10.24,"y":5.85,"g":"D"},{"x":10.24,"y":5.95,"g":"D"},{"x":10.24,"y":6.05,"g":"D"},
{"x":6.08,"y":4.59,"g":"D"},{"x":6.12,"y":4.35,"g":"D"},{"x":6.05,"y":4.2,"g":"D"},{"x":6.18,"y":4.48,"g":"D"},{"x":6.25,"y":4.7,"g":"D"},{"x":6.3,"y":4.4,"g":"D"},{"x":6.35,"y":4.9,"g":"D"},{"x":6.4,"y":4.55,"g":"D"},{"x":6.42,"y":6.1,"g":"D"},{"x":6.45,"y":4.25,"g":"D"},{"x":6.5,"y":5.0,"g":"D"},{"x":6.55,"y":4.7,"g":"D"},{"x":6.6,"y":4.45,"g":"D"},{"x":6.62,"y":5.3,"g":"D"},{"x":6.68,"y":4.95,"g":"D"},{"x":6.7,"y":4.15,"g":"D"},{"x":6.75,"y":4.6,"g":"D"},{"x":6.8,"y":5.15,"g":"D"},{"x":6.85,"y":4.85,"g":"D"},{"x":6.9,"y":4.35,"g":"D"},{"x":6.92,"y":5.45,"g":"D"},{"x":6.98,"y":4.7,"g":"D"},{"x":7.02,"y":5.05,"g":"D"},{"x":7.05,"y":4.5,"g":"D"},{"x":7.1,"y":5.3,"g":"D"},{"x":7.12,"y":4.2,"g":"D"},{"x":7.18,"y":4.85,"g":"D"},{"x":7.22,"y":5.55,"g":"D"},{"x":7.25,"y":4.6,"g":"D"},{"x":7.3,"y":5.1,"g":"D"},{"x":7.32,"y":4.4,"g":"D"},{"x":7.36,"y":5.38,"g":"D"},{"x":7.4,"y":4.55,"g":"D"},{"x":7.42,"y":5.62,"g":"D"},{"x":7.2,"y":3.95,"g":"D"},{"x":6.95,"y":4.0,"g":"D"},{"x":7.5,"y":4.3,"g":"D"},{"x":7.55,"y":5.55,"g":"D"},{"x":7.6,"y":4.4,"g":"D"},{"x":6.22,"y":3.85,"g":"D"},{"x":6.55,"y":3.9,"g":"D"},{"x":6.78,"y":3.72,"g":"D"},{"x":7.05,"y":3.85,"g":"D"},{"x":6.3,"y":5.2,"g":"D"},{"x":6.2,"y":5.0,"g":"D"},{"x":6.48,"y":5.4,"g":"D"},{"x":6.76,"y":5.67,"g":"D"},{"x":7.12,"y":5.62,"g":"D"},{"x":7.3,"y":5.8,"g":"D"},
{"x":7.8,"y":5.75,"g":"D"},{"x":7.95,"y":5.85,"g":"D"},{"x":8.1,"y":5.95,"g":"D"},{"x":8.3,"y":5.98,"g":"D"},{"x":8.5,"y":6.05,"g":"D"},{"x":8.6,"y":6.15,"g":"D"},{"x":8.8,"y":6.1,"g":"D"},{"x":9.0,"y":6.2,"g":"D"},{"x":9.1,"y":6.3,"g":"D"},{"x":9.3,"y":6.22,"g":"D"},{"x":9.45,"y":6.35,"g":"D"},{"x":9.6,"y":6.51,"g":"D"},{"x":9.75,"y":6.3,"g":"D"},{"x":9.9,"y":6.4,"g":"D"},{"x":10.1,"y":6.35,"g":"D"},{"x":10.25,"y":6.42,"g":"D"},{"x":8.2,"y":6.1,"g":"D"},{"x":7.7,"y":5.9,"g":"D"},{"x":9.2,"y":6.45,"g":"D"},
{"x":7.7,"y":4.4,"g":"D"},{"x":7.9,"y":4.45,"g":"D"},{"x":8.0,"y":4.3,"g":"D"},{"x":8.15,"y":4.45,"g":"D"},{"x":8.3,"y":4.35,"g":"D"},{"x":8.45,"y":4.5,"g":"D"},{"x":8.6,"y":4.4,"g":"D"},{"x":8.7,"y":4.55,"g":"D"},{"x":8.85,"y":4.45,"g":"D"},{"x":9.0,"y":4.6,"g":"D"},{"x":9.1,"y":4.4,"g":"D"},{"x":9.25,"y":4.65,"g":"D"},{"x":9.4,"y":4.55,"g":"D"},{"x":9.55,"y":4.75,"g":"D"},{"x":9.7,"y":4.7,"g":"D"},{"x":9.85,"y":4.82,"g":"D"},{"x":10.0,"y":4.85,"g":"D"},{"x":10.2,"y":4.95,"g":"D"},{"x":10.35,"y":5.0,"g":"D"},{"x":10.5,"y":5.05,"g":"D"},{"x":10.65,"y":5.15,"g":"D"},{"x":7.85,"y":4.1,"g":"D"},{"x":8.1,"y":4.05,"g":"D"},{"x":8.5,"y":4.2,"g":"D"},{"x":8.9,"y":4.2,"g":"D"},{"x":9.2,"y":4.3,"g":"D"},{"x":9.5,"y":4.45,"g":"D"},{"x":9.8,"y":4.5,"g":"D"},{"x":10.1,"y":4.6,"g":"D"},{"x":8.35,"y":3.95,"g":"D"},{"x":9.05,"y":3.9,"g":"D"},{"x":9.5,"y":4.1,"g":"D"},{"x":10.25,"y":4.7,"g":"D"},{"x":10.55,"y":4.65,"g":"D"},
{"x":10.75,"y":5.3,"g":"D"},{"x":10.8,"y":5.55,"g":"D"},{"x":10.85,"y":5.8,"g":"D"},{"x":10.9,"y":6.05,"g":"D"},{"x":11.0,"y":5.45,"g":"D"},{"x":11.05,"y":5.7,"g":"D"},{"x":11.1,"y":5.95,"g":"D"},{"x":11.2,"y":5.25,"g":"D"},{"x":11.25,"y":5.55,"g":"D"},{"x":11.32,"y":5.08,"g":"D"},{"x":11.38,"y":6.09,"g":"D"},{"x":11.45,"y":5.65,"g":"D"},{"x":11.6,"y":5.41,"g":"D"},{"x":11.89,"y":5.33,"g":"D"},{"x":10.95,"y":5.1,"g":"D"},{"x":11.15,"y":4.95,"g":"D"},{"x":10.7,"y":4.9,"g":"D"},{"x":11.5,"y":4.8,"g":"D"},{"x":10.85,"y":4.6,"g":"D"},
{"x":6.09,"y":3.62,"g":"D"},{"x":6.43,"y":3.71,"g":"D"},{"x":6.29,"y":3.28,"g":"D"},{"x":7.75,"y":3.3,"g":"D"},{"x":8.17,"y":3.37,"g":"D"},{"x":8.4,"y":3.42,"g":"D"},{"x":8.75,"y":3.31,"g":"D"},{"x":8.81,"y":3.35,"g":"D"},{"x":9.26,"y":3.19,"g":"D"},{"x":8.6,"y":2.84,"g":"D"},{"x":6.0,"y":2.86,"g":"D"},{"x":8.92,"y":2.45,"g":"D"},{"x":8.92,"y":2.36,"g":"D"},{"x":8.62,"y":2.19,"g":"D"},{"x":7.14,"y":2.24,"g":"D"},{"x":7.16,"y":2.01,"g":"D"},{"x":9.71,"y":2.89,"g":"D"},{"x":8.57,"y":3.8,"g":"D"},{"x":8.0,"y":3.72,"g":"D"},{"x":7.73,"y":3.67,"g":"D"},{"x":7.36,"y":3.75,"g":"D"},{"x":9.55,"y":3.8,"g":"D"},{"x":6.05,"y":3.55,"g":"D"},{"x":9.1,"y":3.65,"g":"D"}
],
"box":[{"x":11.33,"x2":14.5,"y":3.3,"y2":-0.33}],
"txt":[{"x":11.9,"y":2.5,"t":"Resist"},{"x":11.9,"y":1.66,"t":"Phyto"},{"x":11.9,"y":0.85,"t":"Enrich"},{"x":11.9,"y":0.04,"t":"– gen"}]
},
"layer":[
{"data":{"name":"pts"},
 "mark":{"type":"circle","size":24,"opacity":1},
 "encoding":{
  "x":{"field":"x","type":"quantitative","scale":{"domain":[1.38,13.95],"nice":false,"zero":false},
   "axis":{"orient":"bottom","values":[2,4,6,8,10,12],"title":"M135","grid":false,"tickSize":6,"tickColor":"#555","domainColor":"#555","labelFontSize":8,"labelColor":"#666","labelPadding":2,"labelFont":"Liberation Sans","titleFont":"Liberation Sans","titleFontStyle":"italic","titleFontWeight":"normal","titleFontSize":10,"titleColor":"#666","titlePadding":4}},
  "y":{"field":"y","type":"quantitative","scale":{"domain":[-0.31,7.92],"nice":false,"zero":false},
   "axis":{"orient":"left","values":[0,2,4,6],"title":"M67","grid":false,"tickSize":6,"tickColor":"#555","domainColor":"#555","labelFontSize":8,"labelColor":"#666","labelPadding":2,"labelFont":"Liberation Sans","titleFont":"Liberation Sans","titleFontStyle":"italic","titleFontWeight":"normal","titleFontSize":10,"titleColor":"#666","titlePadding":2}},
  "color":{"field":"g","type":"nominal","scale":{"domain":["A","B","C","D"],"range":["#30a2da","#fc4f30","#e5ae38","#6d904f"]},
   "legend":{"orient":"top-right","offset":6,"title":null,"padding":10,"strokeColor":"#e6e6e6","fillColor":"white","symbolType":"circle","symbolSize":50,"labelFontSize":10,"labelColor":"#555","labelFont":"Liberation Sans","rowPadding":6.7,"labelOffset":6,
    "labelExpr":"datum.label == 'A' ? 'M135=0, M67=0' : datum.label == 'B' ? 'M135=0, M67=1' : datum.label == 'C' ? 'M135=1, M67=0' : 'M135=1, M67=1'"}}}},
{"data":{"values":[{}]},
 "mark":{"type":"rule","color":"#30a2da","strokeWidth":2,"strokeDash":[5,4]},
 "encoding":{"x":{"datum":6,"type":"quantitative","scale":{"domain":[1.38,13.95],"nice":false,"zero":false},
   "axis":{"orient":"bottom","values":[1.6,2.4,2.8,3.2,3.6,4.4,4.8,5.2,5.6,6.4,6.8,7.2,7.6,8.4,8.8,9.2,9.6,10.4,10.8,11.2,11.6,12.4,12.8,13.2,13.6],"labels":false,"domain":false,"tickSize":3,"tickColor":"#555","title":null,"grid":false}}}},
{"data":{"values":[{}]},
 "mark":{"type":"rule","color":"#30a2da","strokeWidth":2,"strokeDash":[5,4]},
 "encoding":{"y":{"datum":2,"type":"quantitative","scale":{"domain":[-0.31,7.92],"nice":false,"zero":false},
   "axis":{"orient":"left","values":[0.4,0.8,1.2,1.6,2.4,2.8,3.2,3.6,4.4,4.8,5.2,5.6,6.4,6.8,7.2,7.6],"labels":false,"domain":false,"tickSize":3,"tickColor":"#555","title":null,"grid":false}}}},
{"data":{"name":"box"},
 "mark":{"type":"rect","color":"#dfb764"},
 "encoding":{"x":{"field":"x","type":"quantitative","scale":{"domain":[1.38,13.95],"nice":false,"zero":false},"axis":null},"x2":{"field":"x2"},
  "y":{"field":"y","type":"quantitative","scale":{"domain":[-0.31,7.92],"nice":false,"zero":false},"axis":null},"y2":{"field":"y2"}}},
{"data":{"name":"txt"},
 "mark":{"type":"text","font":"Open Sans","fontSize":26,"align":"left","baseline":"alphabetic","color":"#1f1f1f"},
 "encoding":{"x":{"field":"x","type":"quantitative","scale":{"domain":[1.38,13.95],"nice":false,"zero":false},"axis":null},
  "y":{"field":"y","type":"quantitative","scale":{"domain":[-0.31,7.92],"nice":false,"zero":false},"axis":null},
  "text":{"field":"t"}}}
],
"resolve":{"axis":{"x":"independent","y":"independent"}}
}
